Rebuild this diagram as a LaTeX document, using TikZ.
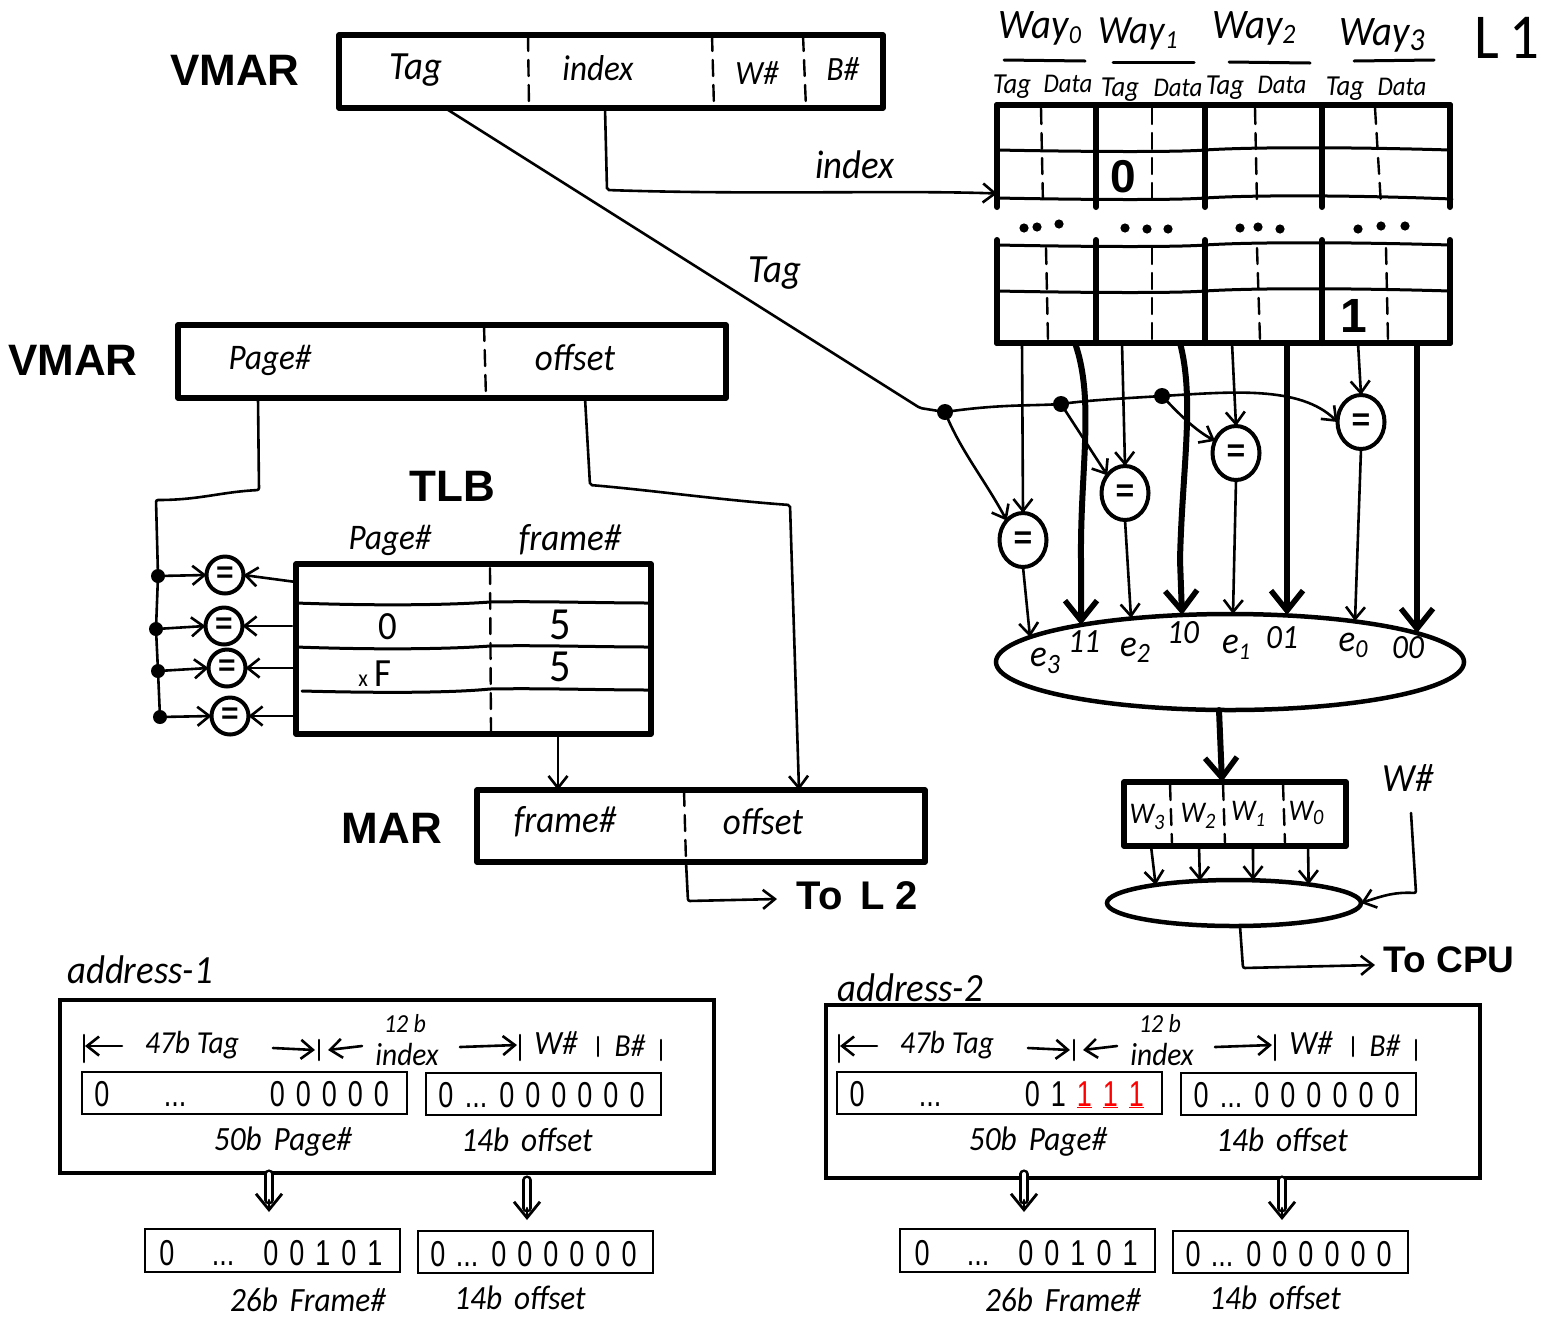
\documentclass[tikz,border=0pt]{standalone}
\usepackage{fontspec}
\usepackage{xcolor}
\setmainfont{Liberation Sans}
\newfontfamily\handfont{Carlito}[FakeStretch=0.92]
\newfontfamily\boldfont{Liberation Sans}
\newfontfamily\typedfont{Liberation Sans}[FakeStretch=0.75]
\usetikzlibrary{arrows.meta,shapes.geometric,calc}
\newcommand\lowtxt[3]{\raisebox{-#1pt}{\fontsize{#2}{#2}\selectfont #3}}
\newcommand\gp{\hspace{11pt}}
\tikzset{
  hand/.style={font=\handfont\itshape\fontsize{#1}{#1}\selectfont,inner sep=0pt,outer sep=0pt},
  heavy/.style={font=\boldfont\bfseries\fontsize{#1}{#1}\selectfont,inner sep=0pt,outer sep=0pt},
  typed/.style={font=\typedfont\fontsize{36}{36}\selectfont,inner sep=0pt,outer sep=0pt,anchor=base},
  bigbox/.style={draw,line width=5.5pt,inner sep=0pt,outer sep=0pt,line join=round},
  panelbox/.style={draw,line width=4pt,inner sep=0pt,outer sep=0pt},
  thinbox/.style={draw,line width=2.6pt,inner sep=0pt,outer sep=0pt},
  ghost/.style={inner sep=0pt,outer sep=0pt},
  sep/.style={line width=2.4pt,dash pattern=on 16pt off 9pt},
  rowline/.style={line width=3pt},
  wayline/.style={line width=6pt,line cap=round},
  conn/.style={line width=2.6pt,rounded corners=2pt,-{Straight Barb[length=12pt,width=19pt,line width=2.6pt]}},
  wire/.style={line width=2.6pt,rounded corners=2pt},
  fat/.style={line width=6pt,-{Straight Barb[length=20pt,width=32pt,line width=5.5pt]}},
  cmp/.style={draw,ellipse,line width=4pt,fill=white,inner sep=0pt,outer sep=0pt,minimum width=47pt,minimum height=54pt,font=\bfseries\fontsize{32}{32}\selectfont},
  cmps/.style={draw,circle,line width=4pt,fill=white,inner sep=0pt,outer sep=0pt,minimum size=37pt,font=\bfseries\fontsize{30}{30}\selectfont},
  junction/.style={circle,fill=black,inner sep=0pt,outer sep=0pt,minimum size=#1},
  mux/.style={draw,ellipse,line width=4.5pt,inner sep=0pt,outer sep=0pt},
  dbl/.style={line width=2.6pt,double distance=4pt},
  dbltip/.style={line width=2.6pt,-{Straight Barb[length=16pt,width=26pt,line width=2.8pt]}},
}
\newcommand\boxat[6]{\node[#6,minimum width={(#4-#2)*1pt},minimum height={(#5-#3)*1pt}] (#1) at ({(#2+#4)/2},{(#3+#5)/2}) {};}
\newcommand\addrpanel[6]{%
\begin{scope}[shift={(#2,0)}]
\boxat{#1outer}{\numexpr60+#6\relax}{#3}{\numexpr714+#6\relax}{\numexpr#3+173\relax}{panelbox}
\boxat{#1A}{82}{1072}{407}{1114}{thinbox}
\boxat{#1B}{426}{1073}{661}{1115}{thinbox}
\boxat{#1C}{145}{1229}{400}{1272}{thinbox}
\boxat{#1D}{418}{1231}{653}{1273}{thinbox}
\node[typed] (#1a0) at (102,1106) {0};
\node[typed] (#1a1) at (175,1106) {...};
\node[typed,anchor=base east] (#1a2) at (389,1106) {#4};
\node[typed] (#1b0) at (446,1107) {0};
\node[typed] (#1b1) at (476,1107) {...};
\node[typed] (#1b2) at (572,1107) {0\gp0\gp0\gp0\gp0\gp0};
\node[typed] (#1c0) at (167,1265) {0};
\node[typed] (#1c1) at (223,1265) {...};
\node[typed] (#1c2) at (323,1265) {0\gp0\gp1\gp0\gp1};
\node[typed] (#1d0) at (438,1266) {0};
\node[typed] (#1d1) at (467,1266) {...};
\node[typed] (#1d2) at (564,1266) {0\gp0\gp0\gp0\gp0\gp0};
\node[hand=32] (#1l1) at (192,1045) {47b Tag};
\node[hand=26] (#1l2) at (405,1024) {12 b};
\node[hand=32] (#1l3) at (407,1054) {index};
\node[hand=34] (#1l4) at (556,1043) {W\#};
\node[hand=32] (#1l5) at (630,1046) {B\#};
\node[hand=34] (#1l6) at (283,1142) {50b\hspace{12pt}Page\#};
\node[hand=34] (#1l7) at (527,1140) {14b\hspace{12pt}offset};
\node[hand=34] (#1l8) at (308,1300) {26b\hspace{12pt}Frame\#};
\node[hand=34] (#1l9) at (520,1298) {14b\hspace{12pt}offset};
\coordinate (#1t1) at (84,1035); \coordinate (#1t2) at (84,1062);
\draw[line width=2.6pt] (#1t1) -- (#1t2);
\draw[line width=2.6pt] (319,1040) -- (319,1060);
\draw[line width=2.6pt] (520,1035) -- (520,1060);
\draw[line width=2.6pt] (598,1037) -- (598,1056);
\draw[line width=2.6pt] (661,1040) -- (661,1060);
\coordinate (#1p1) at (122,1046); \coordinate (#1p2) at (85,1046);
\draw[conn] (#1p1) -- (#1p2);
\coordinate (#1p3) at (273,1048); \coordinate (#1p4) at (315,1050);
\draw[conn] (#1p3) -- (#1p4);
\coordinate (#1p5) at (362,1046); \coordinate (#1p6) at (328,1050);
\draw[conn] (#1p5) -- (#1p6);
\coordinate (#1p7) at (460,1047); \coordinate (#1p8) at (517,1045);
\draw[conn] (#1p7) -- (#1p8);
\coordinate (#1d1a) at (269,1174); \coordinate (#1d1b) at (269,1200); \coordinate (#1d1c) at (269,1212);
\coordinate (#1d2a) at (527,1180); \coordinate (#1d2b) at (527,1208); \coordinate (#1d2c) at (527,1220);
\draw[dbl] (#1d1a) -- (#1d1b);
\draw[dbl] (#1d2a) -- (#1d2b);
\draw[dbltip] (#1d1b) -- (#1d1c);
\draw[dbltip] (#1d2b) -- (#1d2c);
#5
\end{scope}}
\begin{document}
\begin{tikzpicture}[x=1pt,y=-1pt,line cap=round]
\useasboundingbox (0,0) rectangle (1541,1318);

% --- top VMAR
\boxat{vmarT}{339}{35}{883}{108}{bigbox}
\node[heavy=44] (vmarTlab) at (235,70) {VMAR};
\draw[sep] ([xshift=189pt]vmarT.north west) -- ([xshift=190pt]vmarT.south west);
\draw[sep] ([xshift=373pt]vmarT.north west) -- ([xshift=375pt]vmarT.south west);
\draw[sep] ([xshift=464pt]vmarT.north west) -- ([xshift=467pt]vmarT.south west);
\node[hand=40] (tTag) at (416,70) {Tag};
\node[hand=36] (tIndex) at (598,68) {index};
\node[hand=34] (tW) at (757,73) {W\#};
\node[hand=34] (tB) at (843,69) {B\#};

% --- ways header
\node[hand=42] (w0) at (1040,28) {Way\lowtxt{5}{26}{0}};
\node[hand=40] (w1) at (1138,34) {Way\lowtxt{5}{26}{1}};
\node[hand=42] (w2) at (1254,28) {Way\lowtxt{5}{28}{2}};
\node[hand=42] (w3) at (1382,35) {Way\lowtxt{5}{32}{3}};
\draw[rowline] (1004,60) -- (1085,61);
\draw[rowline] (1113,62) -- (1194,62);
\draw[rowline] (1229,62) -- (1310,63);
\draw[rowline] (1354,61) -- (1434,60);
\node[hand=29] (h1) at (1012,87) {Tag};
\node[hand=27] (h2) at (1068,84) {Data};
\node[hand=29] (h3) at (1120,90) {Tag};
\node[hand=27] (h4) at (1178,88) {Data};
\node[hand=29] (h5) at (1225,88) {Tag};
\node[hand=27] (h6) at (1282,85) {Data};
\node[hand=29] (h7) at (1345,89) {Tag};
\node[hand=27] (h8) at (1402,87) {Data};
\node[hand=64] (l1) at (1507,38) {\upshape L\hspace{10pt}1};

% --- cache banks
\node[ghost,minimum width=453pt,minimum height=103pt] (cacheA) at (1223.5,156.5) {};
\node[ghost,minimum width=453pt,minimum height=103pt] (cacheB) at (1223.5,291.5) {};
\foreach \x in {997,1096,1205,1322,1450} {
  \draw[wayline] (\x,105) -- (\x,207);
  \draw[wayline] (\x,240) -- (\x,343);
}
\draw[wayline] (997,105) -- (1450,105);
\draw[wayline] (997,343) -- (1450,343);
\draw[rowline] (997,150) .. controls (1100,152) and (1180,152) .. (1205,150) .. controls (1250,147) and (1350,147) .. (1450,150);
\draw[rowline] (997,198) .. controls (1100,200) and (1180,200) .. (1205,198) .. controls (1250,195) and (1350,195) .. (1452,199);
\draw[rowline] (997,245) .. controls (1100,247) and (1180,247) .. (1205,245) .. controls (1250,242) and (1350,242) .. (1450,245);
\draw[rowline] (997,291) .. controls (1100,293) and (1180,293) .. (1205,291) .. controls (1250,288) and (1350,288) .. (1450,291);
\draw[sep] (1041,108) -- (1043,205);
\draw[sep] (1152,108) -- (1152,205);
\draw[sep] (1255,108) -- (1257,205);
\draw[sep] (1375,108) -- (1381,205);
\draw[sep] (1046,248) -- (1048,340);
\draw[sep] (1152,248) -- (1152,340);
\draw[sep] (1257,248) -- (1260,340);
\draw[sep] (1386,248) -- (1388,340);
\foreach \x/\y in {1024/228,1037/227,1059/224,1125/228,1147/229,1168/229,1240/228,1258/227,1280/229,1358/229,1381/226,1405/226}
  \fill (\x,\y) circle (4.6pt);
\node[font=\bfseries\fontsize{46}{46}\selectfont,inner sep=0pt] (zero) at (1123,177) {0};
\node[font=\bfseries\fontsize{48}{48}\selectfont,inner sep=0pt] (one) at (1354,316) {1};

% --- index and tag wires
\draw[conn] ([xshift=266pt]vmarT.south west) -- (607,190) .. controls (750,195) and (900,190) .. ([yshift=-37pt]cacheA.west);
\node[hand=40] (lindex) at (855,165) {index};
\node[junction=16pt] (j3) at (945,412) {};
\node[junction=16pt] (j2) at (1061,404) {};
\node[junction=16pt] (j1) at (1162,396) {};
\node[hand=40] (ltag) at (775,273) {Tag};

% --- comparators
\node[cmp] (c3) at (1023,540) {=};
\node[cmp] (c2) at (1125,493) {=};
\node[cmp] (c1) at (1236,453) {=};
\node[cmp] (c0) at (1361,422) {=};
\draw[wire] ([xshift=106pt]vmarT.south west) -- (920,408) -- (j3.center);
\draw[wire] (j3.center) .. controls (1000,404) and (1030,406) .. (j2.center) .. controls (1090,400) and (1130,398) .. (j1.center);
\draw[conn] (j1.center) .. controls (1230,392) and (1300,385) .. (c0.west);
\draw[conn] (j3.center) .. controls (960,450) and (985,480) .. (c3.130);
\draw[conn] (j2.center) -- (c2.135);
\draw[conn] (j1.center) .. controls (1180,415) and (1195,430) .. (c1.150);
\draw[conn] ([xshift=25pt]cacheB.south west) -- (c3.north);
\draw[conn] ([xshift=125pt]cacheB.south west) -- (c2.north);
\draw[conn] ([xshift=235pt]cacheB.south west) -- (c1.north);
\draw[conn] ([xshift=361pt]cacheB.south west) -- (c0.north);

% --- selector
\node[mux,minimum width=468pt,minimum height=96pt] (sel) at (1230,662) {};
\coordinate (s1) at (1030,637);
\coordinate (s2) at (1081,625);
\coordinate (s3) at (1131,618);
\coordinate (s4) at (1182,615);
\coordinate (s5) at (1233,614);
\coordinate (s6) at (1287,615);
\coordinate (s7) at (1355,621);
\coordinate (s8) at (1417,633);
\draw[conn] (c3.south) -- (s1);
\draw[conn] (c2.south) -- (s3);
\draw[conn] (c1.south) -- (s5);
\draw[conn] (c0.south) -- (s7);
\draw[fat] ([xshift=78pt]cacheB.south west) .. controls (1095,400) and (1080,470) .. (1081,560) -- (s2);
\draw[fat] ([xshift=183pt]cacheB.south west) .. controls (1195,400) and (1182,470) .. (1180,560) -- (s4);
\draw[fat] ([xshift=290pt]cacheB.south west) .. controls (1287,450) and (1287,550) .. (s6);
\draw[fat] ([xshift=420pt]cacheB.south west) -- (s8);
\node[hand=38] (e3) at (1045,661) {e\lowtxt{7}{28}{3}};
\node[hand=34] (n11) at (1084,642) {11};
\node[hand=38] (e2) at (1135,650) {e\lowtxt{6}{28}{2}};
\node[hand=34] (n10) at (1183,633) {10};
\node[hand=38] (e1) at (1236,647) {e\lowtxt{6}{24}{1}};
\node[hand=34] (n01) at (1282,638) {01};
\node[hand=38] (e0) at (1353,645) {e\lowtxt{6}{26}{0}};
\node[hand=34] (n00) at (1408,648) {00};

% --- word select
\boxat{wbox}{1124}{782}{1346}{846}{bigbox}
\draw[fat] ([xshift=-11pt]sel.south) -- ([xshift=-13pt]wbox.north);
\draw[sep] (1170,784) -- (1172,844);
\draw[sep] (1223,784) -- (1225,844);
\draw[sep] (1283,784) -- (1285,844);
\node[hand=30] (w3l) at (1147,817) {W\lowtxt{6}{22}{3}};
\node[hand=30] (w2l) at (1198,816) {W\lowtxt{6}{22}{2}};
\node[hand=30] (w1l) at (1248,814) {W\lowtxt{6}{20}{1}};
\node[hand=30] (w0l) at (1306,813) {W\lowtxt{4}{22}{0}};
\node[hand=40] (wnum) at (1408,778) {W\#};
\node[mux,minimum width=254pt,minimum height=46pt] (mx) at (1234,903) {};
\draw[conn] ([xshift=27pt]wbox.south west) -- (mx.167.7);
\draw[conn] ([xshift=75pt]wbox.south west) -- (mx.147.7);
\draw[conn] ([xshift=129pt]wbox.south west) -- (mx.50);
\draw[conn] ([xshift=184pt]wbox.south west) -- (mx.14.2);
\coordinate (wsrc) at (1411,813);
\draw[conn] (wsrc) -- (1416,893) .. controls (1395,892) and (1385,895) .. (mx.east);
\draw[conn] ([xshift=6pt]mx.south) -- (1243,968) -- (1375,965);
\node[heavy=37] (tocpu) at (1449,960) {To CPU};

% --- VMAR and TLB
\boxat{vmarL}{178}{325}{726}{398}{bigbox}
\node[heavy=44] (vmarLlab) at (73,360) {VMAR};
\draw[sep] ([xshift=306pt]vmarL.north west) -- ([xshift=308pt]vmarL.south west);
\node[hand=36] (page) at (270,360) {Page\#};
\node[hand=38] (offs) at (575,358) {offset};
\node[heavy=44] (tlbl) at (452,486) {TLB};
\node[hand=36] (hpage) at (390,540) {Page\#};
\node[hand=38] (hframe) at (570,540) {frame\#};
\boxat{tlb}{296}{564}{651}{734}{bigbox}
\draw[rowline] (296,603) .. controls (380,606) and (450,605) .. (490,602) .. controls (540,601) and (600,603) .. (651,603);
\draw[rowline] (296,647) .. controls (380,650) and (450,649) .. (490,646) .. controls (540,645) and (600,647) .. (651,647);
\draw[rowline] (302,691) .. controls (380,693) and (450,693) .. (490,689) .. controls (540,688) and (600,690) .. (651,690);
\draw[sep] (490,568) -- (491,732);
\node[hand=40] (d0) at (388,627) {\upshape 0};
\node[hand=46] (d5a) at (560,625) {\upshape 5};
\node[hand=38] (dxf) at (375,674) {\upshape\fontsize{24}{24}\selectfont x\hspace{7pt}\fontsize{40}{40}\selectfont F};
\node[hand=46] (d5b) at (560,667) {\upshape 5};
\node[cmps] (t0) at (225,575) {=};
\node[cmps] (t1) at (224,626) {=};
\node[cmps] (t2) at (227,668) {=};
\node[cmps] (t3) at (230,716) {=};
\node[junction=14pt] (q0) at (158,576) {};
\node[junction=14pt] (q1) at (156,629) {};
\node[junction=14pt] (q2) at (158,671) {};
\node[junction=14pt] (q3) at (160,717) {};
\draw[wire] ([xshift=80pt]vmarL.south west) -- (259,490) .. controls (220,492) and (200,500) .. (156,500) -- (q0.center) -- (q1.center) -- (q2.center) -- (q3.center);
\draw[conn] (q0.center) -- (t0.west);
\draw[conn] (q1.center) -- (t1.west);
\draw[conn] (q2.center) -- (t2.west);
\draw[conn] (q3.center) -- (t3.west);
\draw[conn] ([yshift=-7pt]tlb.west |- t0.east) -- (t0.east);
\draw[conn] ([xshift=-4pt]tlb.west |- t1.east) -- (t1.east);
\draw[conn] ([xshift=-2pt]tlb.west |- t2.east) -- (t2.east);
\draw[conn] (tlb.west |- t3.east) -- (t3.east);
\boxat{mar}{477}{790}{925}{862}{bigbox}
\node[heavy=44] (marl) at (392,828) {MAR};
\draw[sep] ([xshift=207pt]mar.north west) -- ([xshift=209pt]mar.south west);
\node[hand=38] (mfr) at (565,822) {frame\#};
\node[hand=38] (mof) at (763,822) {offset};
\draw[conn] (vmarL.south -| 585,0) -- (590,485) .. controls (650,490) and (720,500) .. (790,505) -- ([xshift=322pt]mar.north west);
\draw[conn] ([xshift=262pt]tlb.south west) -- ([xshift=81pt]mar.north west);
\draw[conn] ([xshift=209pt]mar.south west) -- (688,901) -- (777,899);
\node[heavy=40] (tol2) at (857,896) {To\hspace{18pt}L\hspace{10pt}2};

% --- address panels
\addrpanel{pa}{0}{1000}{0\gp0\gp0\gp0\gp0}{\node[hand=40] (pat) at (140,970) {address-1};}{0}
\addrpanel{pb}{755}{1005}{0\gp1\gp\textcolor{red}{\underline{1}\gp\underline{1}\gp\underline{1}}}{\node[hand=40] (pbt) at (155,988) {address-2};}{11}
\end{tikzpicture}
\end{document}
